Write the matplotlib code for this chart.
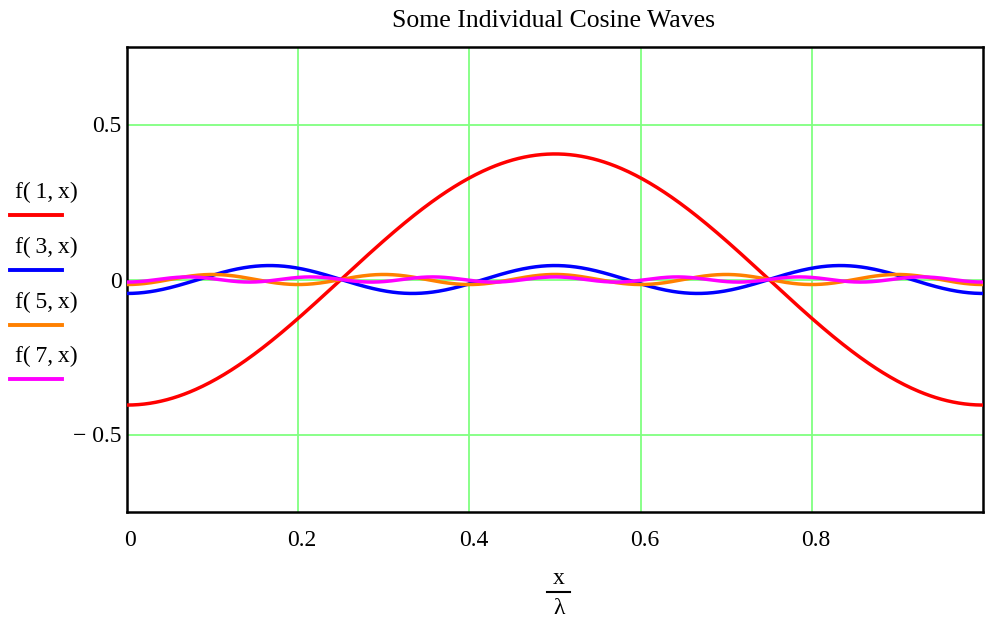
import numpy as np
import matplotlib.pyplot as plt
from matplotlib.transforms import ScaledTranslation

plt.rcParams['font.family'] = ['Liberation Serif', 'DejaVu Serif']

# harmonic number and amplitude
harmonics = [1, 3, 5, 7]
amplitudes = [0.405, 0.045, 0.0162, 0.0083]
colors = ['#ff0000', '#0000ff', '#ff8000', '#ff00ff']
labels = ['f(\u20091,\u2009x)', 'f(\u20093,\u2009x)', 'f(\u20095,\u2009x)', 'f(\u20097,\u2009x)']

x = np.linspace(0, 1.0, 600)

fig = plt.figure(figsize=(9.9, 6.26), dpi=100)
ax = fig.add_axes([127/990, 1 - 512/626, (983-127)/990, (512-47)/626])

for n, a, c in zip(harmonics, amplitudes, colors):
    ax.plot(x, -a*np.cos(2*np.pi*n*x), color=c, lw=2.5, zorder=3)

ax.set_xlim(0, 1)
ax.set_ylim(-0.75, 0.75)
ax.set_xticks([0, 0.2, 0.4, 0.6, 0.8])
ax.set_xticklabels(['0', '0.2', '0.4', '0.6', '0.8'])
ax.set_yticks([-0.5, 0, 0.5])
ax.set_yticklabels(['\u2212 0.5', '0', '0.5'])
ax.tick_params(length=0, labelsize=17)
ax.tick_params(axis='x', pad=13)
ax.tick_params(axis='y', pad=4)
off = ScaledTranslation(4/100, 0, fig.dpi_scale_trans)
for i, lab in enumerate(ax.get_xticklabels()):
    if i == 0:
        lab.set_horizontalalignment('left')
        lab.set_transform(lab.get_transform() + ScaledTranslation(-3/100, 0, fig.dpi_scale_trans))
    else:
        lab.set_transform(lab.get_transform() + off)
ax.grid(True, color='#80ff80', lw=1.3)
for s in ax.spines.values():
    s.set_linewidth(1.8)

fig.text(553/990, 1 - 21/626, 'Some Individual Cosine Waves', fontsize=18.5,
         ha='center', va='center')

# legend at the left, Mathcad style
ly = [192, 247, 302, 356]
for lab, c, y in zip(labels, colors, ly):
    fig.text(15/990, 1 - y/626, lab, fontsize=17, va='center', ha='left')
    fig.add_artist(plt.Line2D([10/990, 62/990], [1 - (y+23)/626]*2,
                              color=c, lw=2.8, transform=fig.transFigure))

# x / lambda label
fig.text(559/990, 1 - 578/626, 'x', fontsize=17, ha='center', va='center')
fig.add_artist(plt.Line2D([547/990, 570/990], [1 - 592/626]*2,
                          color='black', lw=1.5, transform=fig.transFigure))
fig.text(559/990, 1 - 609/626, '\u03bb', fontsize=17, ha='center', va='center')

fig.savefig('out.png')
